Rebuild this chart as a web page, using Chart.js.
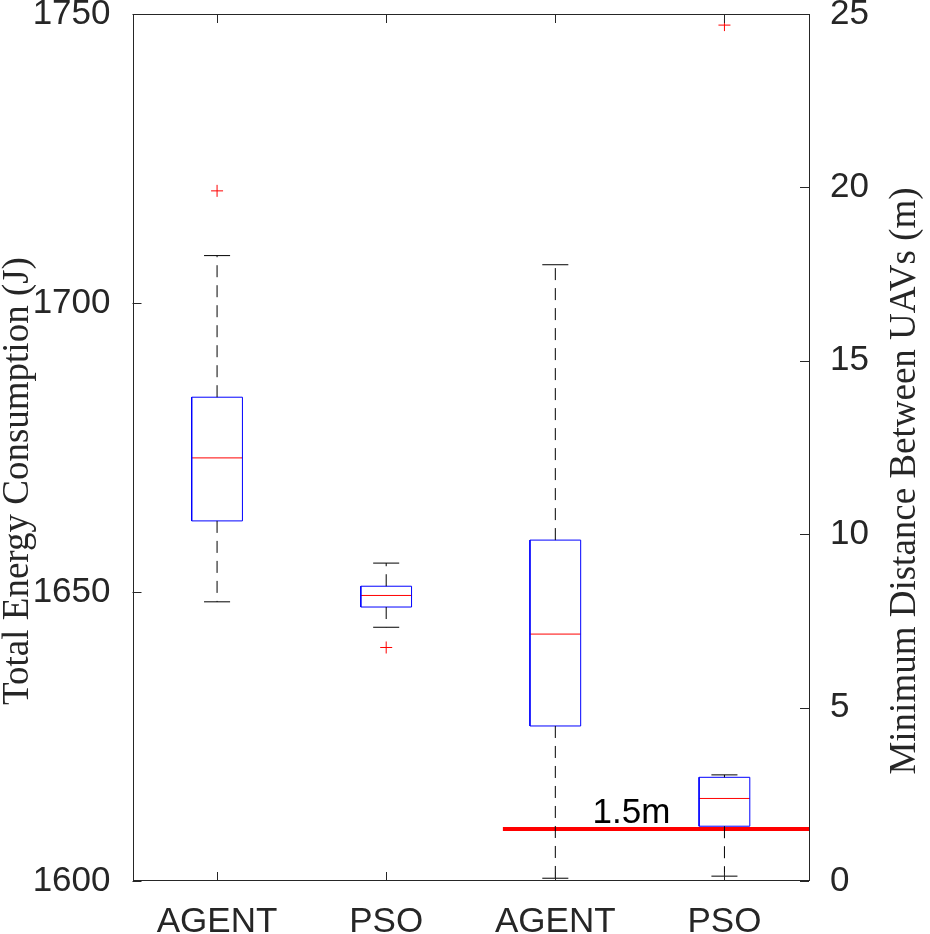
<!DOCTYPE html>
<html><head><meta charset="utf-8">
<script src="https://cdn.jsdelivr.net/npm/chart.js@4.4.1/dist/chart.umd.min.js"></script>
<style>html,body{margin:0;padding:0;background:#fff}#wrap{width:930px;height:934px}</style>
</head><body><div id="wrap"><canvas id="c" width="930" height="934"></canvas></div>
<script>
// ---- data ----
const categories = ['AGENT', 'PSO', 'AGENT', 'PSO'];
const positions = [1, 2, 3, 4];
const axisOf = ['y', 'y', 'y2', 'y2'];
const lowerWhisker = [1648.3, 1643.9, 0.08, 0.14];
const q1 = [1662.3, 1647.4, 4.47, 1.58];
const median = [1673.2, 1649.4, 7.12, 2.38];
const q3 = [1683.7, 1651.0, 9.83, 2.99];
const upperWhisker = [1708.2, 1655.0, 17.77, 3.06];
const outliers = [[1719.4], [1640.4], [], [24.68]];
const energyTicks = [1600, 1650, 1700, 1750];
const distanceTicks = [0, 5, 10, 15, 20, 25];
const thresholdValue = 1.5;
const thresholdLabel = '1.5m';
const leftTitle = 'Total Energy Consumption (J)';
const rightTitle = 'Minimum Distance Between UAVs (m)';

// ---- styling constants ----
const BOX_HALF = 0.15, CAP_HALF = 0.077;
const AX = '#262626';
const TICK_FONT = {family: 'Liberation Sans, Arial, sans-serif', size: 35};

const datasets = [];
positions.forEach((p, i) => {
  const ax = axisOf[i];
  const common = {type: 'scatter', showLine: true, pointRadius: 0, pointHoverRadius: 0, spanGaps: false, fill: false, yAxisID: ax, tension: 0};
  // whiskers (dashed)
  datasets.push(Object.assign({}, common, {
    data: [{x: p, y: q3[i]}, {x: p, y: upperWhisker[i]}, {x: p, y: null}, {x: p, y: q1[i]}, {x: p, y: lowerWhisker[i]}],
    borderColor: '#000', borderWidth: 1, borderDash: [12, 8]
  }));
  // caps
  datasets.push(Object.assign({}, common, {
    data: [{x: p - CAP_HALF, y: upperWhisker[i]}, {x: p + CAP_HALF, y: upperWhisker[i]}, {x: p, y: null},
           {x: p - CAP_HALF, y: lowerWhisker[i]}, {x: p + CAP_HALF, y: lowerWhisker[i]}],
    borderColor: '#000', borderWidth: 1
  }));
  // box
  datasets.push(Object.assign({}, common, {
    data: [{x: p - BOX_HALF, y: q1[i]}, {x: p + BOX_HALF, y: q1[i]}, {x: p + BOX_HALF, y: q3[i]},
           {x: p - BOX_HALF, y: q3[i]}, {x: p - BOX_HALF, y: q1[i]}],
    borderColor: '#0000ff', borderWidth: 1
  }));
  // median
  datasets.push(Object.assign({}, common, {
    data: [{x: p - BOX_HALF, y: median[i]}, {x: p + BOX_HALF, y: median[i]}],
    borderColor: '#ff0000', borderWidth: 1
  }));
  // outliers
  if (outliers[i].length) {
    datasets.push({
      type: 'scatter', yAxisID: ax, showLine: false,
      data: outliers[i].map(v => ({x: p, y: v})),
      pointStyle: 'cross', pointRadius: 6, pointHoverRadius: 6,
      borderColor: '#ff0000', pointBorderColor: '#ff0000', borderWidth: 1, pointBorderWidth: 1
    });
  }
});
// threshold line
datasets.push({
  type: 'scatter', yAxisID: 'y2', showLine: true, pointRadius: 0, pointHoverRadius: 0,
  data: [{x: 2.69, y: thresholdValue}, {x: 4.5, y: thresholdValue}],
  borderColor: '#ff0000', borderWidth: 4
});

const framePlugin = {
  id: 'frame',
  afterDatasetsDraw(chart) {
    const ctx = chart.ctx;
    const {left, right, top, bottom} = chart.chartArea;
    const xs = chart.scales.x, ys = chart.scales.y, y2 = chart.scales.y2;
    ctx.save();
    // threshold label
    ctx.fillStyle = '#000';
    ctx.font = '35px "Liberation Sans", Arial, sans-serif';
    ctx.textAlign = 'center';
    ctx.textBaseline = 'alphabetic';
    ctx.fillText(thresholdLabel, xs.getPixelForValue(3.45), y2.getPixelForValue(thresholdValue) - 6);
    // frame
    ctx.strokeStyle = AX;
    ctx.lineWidth = 1;
    ctx.strokeRect(Math.round(left) + 0.5, Math.round(top) + 0.5, Math.round(right - left) - 1, Math.round(bottom - top) - 1);
    ctx.beginPath();
    positions.forEach(v => {
      const px = Math.round(xs.getPixelForValue(v)) + 0.5;
      ctx.moveTo(px, bottom); ctx.lineTo(px, bottom - 9);
      ctx.moveTo(px, top); ctx.lineTo(px, top + 9);
    });
    energyTicks.forEach(v => {
      const py = Math.round(ys.getPixelForValue(v)) + 0.5;
      ctx.moveTo(left, py); ctx.lineTo(left + 9, py);
    });
    distanceTicks.forEach(v => {
      const py = Math.round(y2.getPixelForValue(v)) + 0.5;
      ctx.moveTo(right, py); ctx.lineTo(right - 9, py);
    });
    ctx.stroke();
    // axis titles
    ctx.fillStyle = '#262626';
    ctx.font = '37px "Liberation Serif", "Times New Roman", serif';
    ctx.textAlign = 'center';
    const cy = 481;
    ctx.save();
    ctx.translate(28, cy);
    ctx.rotate(-Math.PI / 2);
    ctx.fillText(leftTitle, 0, 0);
    ctx.restore();
    ctx.save();
    ctx.translate(915, cy);
    ctx.rotate(-Math.PI / 2);
    ctx.fillText(rightTitle, 0, 0);
    ctx.restore();
    ctx.restore();
  }
};

new Chart(document.getElementById('c'), {
  type: 'scatter',
  data: {datasets},
  options: {
    responsive: false,
    devicePixelRatio: 1,
    animation: false,
    events: [],
    layout: {padding: {top: 14, left: 0, right: 0, bottom: 0}},
    plugins: {legend: {display: false}, tooltip: {enabled: false}},
    scales: {
      x: {
        type: 'linear', position: 'bottom', min: 0.5, max: 4.5,
        afterBuildTicks: s => { s.ticks = positions.map(v => ({value: v})); },
        afterFit: s => { s.height = 53; s.paddingLeft = 0; s.paddingRight = 0; },
        grid: {display: false}, border: {display: false},
        ticks: {font: TICK_FONT, color: AX, padding: 12, maxRotation: 0, autoSkip: false,
          callback: (v, i) => categories[i]}
      },
      y: {
        type: 'linear', position: 'left', min: 1600, max: 1750,
        afterBuildTicks: s => { s.ticks = energyTicks.map(v => ({value: v})); },
        afterFit: s => { s.width = 132.5; s.paddingTop = 0; s.paddingBottom = 0; },
        grid: {display: false}, border: {display: false},
        ticks: {font: TICK_FONT, color: AX, padding: 14, callback: v => String(v)}
      },
      y2: {
        type: 'linear', position: 'right', min: 0, max: 25,
        afterBuildTicks: s => { s.ticks = distanceTicks.map(v => ({value: v})); },
        afterFit: s => { s.width = 121; s.paddingTop = 0; s.paddingBottom = 0; },
        grid: {display: false}, border: {display: false},
        ticks: {font: TICK_FONT, color: AX, padding: 13, callback: v => String(v)}
      }
    }
  },
  plugins: [framePlugin]
});
</script>
</body></html>
